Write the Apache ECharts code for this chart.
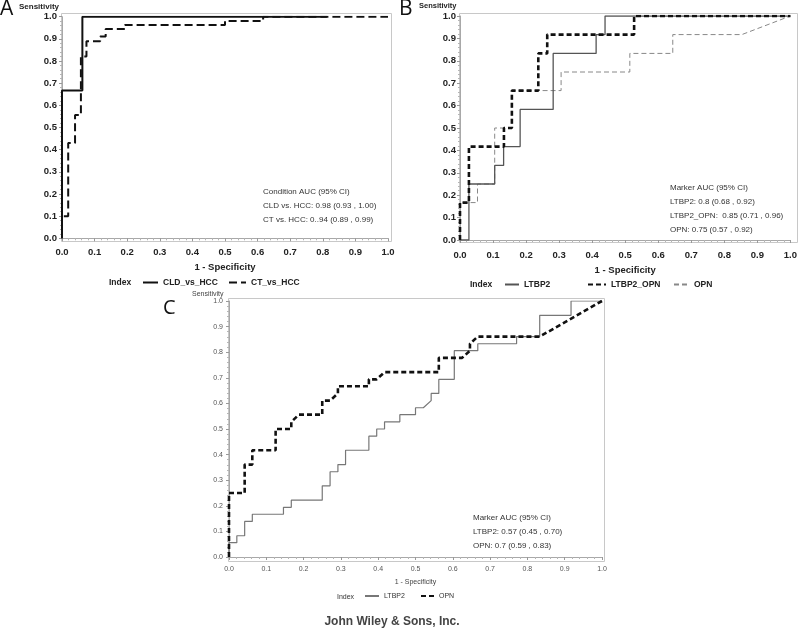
<!DOCTYPE html>
<html>
<head>
<meta charset="utf-8">
<script src="https://cdn.jsdelivr.net/npm/echarts@6/dist/echarts.min.js"></script>
<style>
html,body{margin:0;padding:0;background:#fff;}
#chart{width:800px;height:628px;}
</style>
</head>
<body>
<div id="chart"></div>
<script>
// ---------- Tick labels ----------
const tickValues = [0,0.1,0.2,0.3,0.4,0.5,0.6,0.7,0.8,0.9,1.0];

// ---------- Panel A : Condition ROC ----------
const aSeriesNames = ['CLD_vs_HCC', 'CT_vs_HCC'];
const aCldX = [0, 0, 0.0625, 0.0625, 0.8125];
const aCldY = [0, 0.667, 0.667, 1.0, 1.0];
const aCtX = [0, 0, 0.019, 0.019, 0.040, 0.040, 0.058, 0.058, 0.075, 0.075, 0.117, 0.117, 0.134, 0.134, 0.193, 0.193, 0.500, 0.500, 0.617, 0.617, 1.0];
const aCtY = [0, 0.100, 0.100, 0.430, 0.430, 0.556, 0.556, 0.820, 0.820, 0.889, 0.889, 0.911, 0.911, 0.944, 0.944, 0.963, 0.963, 0.981, 0.981, 1.0, 1.0];
const aNote = ['Condition AUC (95% CI)', 'CLD vs. HCC: 0.98 (0.93 , 1.00)', 'CT vs. HCC: 0..94 (0.89 , 0.99)'];

// ---------- Panel B : Marker ROC ----------
const bSeriesNames = ['LTBP2', 'LTBP2_OPN', 'OPN'];
const bLtbpX = [0, 0.027, 0.027, 0.105, 0.105, 0.132, 0.132, 0.182, 0.182, 0.282, 0.282, 0.412, 0.412, 0.439, 0.439, 1.0];
const bLtbpY = [0, 0, 0.250, 0.250, 0.333, 0.333, 0.417, 0.417, 0.583, 0.583, 0.833, 0.833, 0.917, 0.917, 1.0, 1.0];
const bComboX = [0, 0, 0.027, 0.027, 0.133, 0.133, 0.157, 0.157, 0.237, 0.237, 0.264, 0.264, 0.527, 0.527, 1.0];
const bComboY = [0, 0.167, 0.167, 0.417, 0.417, 0.500, 0.500, 0.667, 0.667, 0.833, 0.833, 0.917, 0.917, 1.0, 1.0];
const bOpnX = [0, 0, 0.053, 0.053, 0.105, 0.105, 0.157, 0.157, 0.306, 0.306, 0.514, 0.514, 0.644, 0.644, 0.853, 1.0];
const bOpnY = [0, 0.167, 0.167, 0.250, 0.250, 0.500, 0.500, 0.667, 0.667, 0.750, 0.750, 0.833, 0.833, 0.917, 0.917, 1.0];
const bNote = ['Marker AUC (95% CI)', 'LTBP2: 0.8 (0.68 , 0.92)', 'LTBP2_OPN:  0.85 (0.71 , 0.96)', 'OPN: 0.75 (0.57 , 0.92)'];

// ---------- Panel C : Marker ROC ----------
const cSeriesNames = ['LTBP2', 'OPN'];
const cLtbpX = [0, 0, 0.021, 0.021, 0.042, 0.042, 0.0625, 0.0625, 0.146, 0.146, 0.167, 0.167, 0.250, 0.250, 0.271, 0.271, 0.292, 0.292, 0.3125, 0.3125, 0.375, 0.375, 0.396, 0.396, 0.417, 0.417, 0.458, 0.458, 0.500, 0.500, 0.521, 0.542, 0.542, 0.5625, 0.5625, 0.604, 0.604, 0.667, 0.667, 0.771, 0.771, 0.833, 0.833, 0.917, 0.917, 1.0];
const cLtbpY = [0, 0.056, 0.056, 0.083, 0.083, 0.139, 0.139, 0.167, 0.167, 0.194, 0.194, 0.222, 0.222, 0.278, 0.278, 0.333, 0.333, 0.361, 0.361, 0.417, 0.417, 0.472, 0.472, 0.500, 0.500, 0.528, 0.528, 0.556, 0.556, 0.583, 0.583, 0.611, 0.639, 0.639, 0.694, 0.694, 0.806, 0.806, 0.833, 0.833, 0.861, 0.861, 0.944, 0.944, 1.0, 1.0];
const cOpnX = [0, 0, 0.042, 0.042, 0.0625, 0.0625, 0.125, 0.125, 0.167, 0.167, 0.1875, 0.250, 0.250, 0.271, 0.292, 0.292, 0.375, 0.375, 0.396, 0.417, 0.5625, 0.5625, 0.625, 0.646, 0.646, 0.667, 0.833, 1.0];
const cOpnY = [0, 0.250, 0.250, 0.361, 0.361, 0.417, 0.417, 0.500, 0.500, 0.528, 0.556, 0.556, 0.611, 0.611, 0.639, 0.667, 0.667, 0.694, 0.694, 0.722, 0.722, 0.778, 0.778, 0.806, 0.833, 0.861, 0.861, 1.0];
const cNote = ['Marker AUC (95% CI)', 'LTBP2: 0.57 (0.45 , 0.70)', 'OPN: 0.7 (0.59 , 0.83)'];

const pts = (xs, ys) => xs.map((x, i) => [x, ys[i]]);
const FONT = "'Liberation Sans', Arial, Helvetica, sans-serif";
const C_SUFFIX = ' (C)';

function xAx(grid, offset, lab, name) {
  return {
    gridIndex: grid, type: 'value', min: 0, max: 1, interval: 0.1, offset: offset,
    axisLine: {show: true, lineStyle: {color: '#a8a8a8', width: 1}},
    axisTick: {show: true, length: 3, lineStyle: {color: '#999'}},
    minorTick: {show: true, splitNumber: 5, length: 2, lineStyle: {color: '#b5b5b5'}},
    splitLine: {show: false}, minorSplitLine: {show: false},
    axisLabel: Object.assign({formatter: v => v.toFixed(1), fontFamily: FONT}, lab),
    name: name.text, nameLocation: 'middle', nameGap: name.gap,
    nameTextStyle: Object.assign({fontFamily: FONT}, name.style)
  };
}
function yAx(grid, offset, lab) {
  return {
    gridIndex: grid, type: 'value', min: 0, max: 1, interval: 0.1, offset: offset,
    axisLine: {show: true, lineStyle: {color: '#a8a8a8', width: 1}},
    axisTick: {show: true, length: 3, lineStyle: {color: '#999'}},
    minorTick: {show: true, splitNumber: 5, length: 2, lineStyle: {color: '#b5b5b5'}},
    splitLine: {show: false}, minorSplitLine: {show: false},
    axisLabel: Object.assign({formatter: v => v.toFixed(1), fontFamily: FONT}, lab)
  };
}
const boldLab = {fontSize: 9.5, fontWeight: 'bold', color: '#222'};
const smallLab = {fontSize: 7, color: '#555'};

function line(name, xi, data, color, width, dash) {
  return {
    type: 'line', name: name, xAxisIndex: xi, yAxisIndex: xi, data: data,
    symbol: 'none', showSymbol: false, animation: false, silent: true,
    lineStyle: {color: color, width: width, type: dash || 'solid', cap: 'butt'},
    itemStyle: {color: color}
  };
}

function leg(name, left, top, w, textStyle, fmt) {
  return {
    data: [name], left: left, top: top, itemWidth: w, itemHeight: 10, padding: 0,
    selectedMode: false, orient: 'horizontal',
    itemStyle: {opacity: 0},
    textStyle: Object.assign({fontFamily: FONT, padding: [0,0,0,0]}, textStyle),
    formatter: fmt || (n => n)
  };
}
const legBold = {fontSize: 8.5, fontWeight: 'bold', color: '#222'};
const legSmall = {fontSize: 7, color: '#333'};
const stripC = n => n.replace(C_SUFFIX, '');

function txt(x, y, s, style, align) {
  return {type: 'text', x: x, y: y, silent: true,
    style: Object.assign({text: s, fontFamily: FONT, fill: '#333', textAlign: align || 'left', textVerticalAlign: 'middle'}, style)};
}
function frame(x, y, w, h) {
  return {type: 'rect', silent: true, z: -1,
    shape: {x: x + 0.5, y: y + 0.5, width: w, height: h},
    style: {fill: 'none', stroke: '#c8c8c8', lineWidth: 1}};
}

const graphics = [
  frame(61, 13, 330, 228),
  frame(459, 13, 338, 229),
  frame(228, 298, 376, 263),
  txt(0, 9, 'A', {fontSize: 21, fontFamily: "'Open Sans', sans-serif", fill: '#111'}),
  txt(399, 9, 'B', {fontSize: 21, fontFamily: "'Open Sans', sans-serif", fill: '#111'}),
  txt(163, 308, 'C', {fontSize: 20, fontFamily: "'Open Sans', sans-serif", fill: '#111'}),
  txt(19, 7, 'Sensitivity', {fontSize: 8, fontWeight: 'bold', fill: '#222'}),
  txt(419, 6, 'Sensitivity', {fontSize: 7.5, fontWeight: 'bold', fill: '#222'}),
  txt(192, 294, 'Sensitivity', {fontSize: 7, fill: '#444'}),
  txt(109, 283, 'Index', {fontSize: 8.5, fontWeight: 'bold', fill: '#222'}),
  txt(470, 285, 'Index', {fontSize: 8.5, fontWeight: 'bold', fill: '#222'}),
  txt(337, 597, 'Index', {fontSize: 7, fill: '#333'}),
  txt(392, 622, 'John Wiley & Sons, Inc.', {fontSize: 12, fontWeight: 'bold', fill: '#444'}, 'center')
];
const aNoteY = [191.7, 205.7, 220];
aNote.forEach((s, i) => graphics.push(txt(263, aNoteY[i], s, {fontSize: 8, fill: '#333'})));
const bNoteY = [187.7, 201.7, 216, 230];
bNote.forEach((s, i) => graphics.push(txt(670, bNoteY[i], s, {fontSize: 8, fill: '#333'})));
const cNoteY = [517.3, 531.7, 546];
cNote.forEach((s, i) => graphics.push(txt(473, cNoteY[i], s, {fontSize: 8, fill: '#333'})));

const option = {
  backgroundColor: '#fff',
  animation: false,
  grid: [
    {left: 62, top: 16.7, width: 326, height: 221.6},
    {left: 460, top: 16, width: 334, height: 224},
    {left: 229, top: 301, width: 373, height: 256}
  ],
  xAxis: [
    xAx(0, 3, Object.assign({margin: 6}, boldLab), {text: '1 - Specificity', gap: 21, style: {fontSize: 9.5, fontWeight: 'bold', color: '#222'}}),
    xAx(1, 2, Object.assign({margin: 8}, boldLab), {text: '1 - Specificity', gap: 23, style: {fontSize: 9.5, fontWeight: 'bold', color: '#222'}}),
    xAx(2, 4, Object.assign({margin: 5}, smallLab), {text: '1 - Specificity', gap: 18, style: {fontSize: 7, color: '#444'}})
  ],
  yAxis: [
    yAx(0, 1, Object.assign({margin: 4}, boldLab)),
    yAx(1, 1, Object.assign({margin: 3}, boldLab)),
    yAx(2, 1, Object.assign({margin: 5}, smallLab))
  ],
  legend: [
    leg(aSeriesNames[0], 142, 278, 15, legBold),
    leg(aSeriesNames[1], 228, 278, 17, legBold),
    leg(bSeriesNames[0], 504, 280, 14, legBold),
    leg(bSeriesNames[1], 587, 280, 18, legBold),
    leg(bSeriesNames[2], 673, 280, 15, legBold),
    leg(cSeriesNames[0] + C_SUFFIX, 364, 592, 14, legSmall, stripC),
    leg(cSeriesNames[1] + C_SUFFIX, 420, 592, 13, legSmall, stripC)
  ],
  series: [
    line(aSeriesNames[1], 0, pts(aCtX, aCtY), '#111', 2, [8, 4]),
    line(aSeriesNames[0], 0, pts(aCldX, aCldY), '#111', 2),
    line(bSeriesNames[2], 1, pts(bOpnX, bOpnY), '#888', 1, [5, 3]),
    line(bSeriesNames[0], 1, pts(bLtbpX, bLtbpY), '#555', 1.3),
    line(bSeriesNames[1], 1, pts(bComboX, bComboY), '#111', 2.6, [5, 3]),
    line(cSeriesNames[0] + C_SUFFIX, 2, pts(cLtbpX, cLtbpY), '#777', 1.2),
    line(cSeriesNames[1] + C_SUFFIX, 2, pts(cOpnX, cOpnY), '#111', 2.6, [5, 3])
  ],
  graphic: graphics
};

const chart = echarts.init(document.getElementById('chart'), null, {renderer: 'canvas'});
chart.setOption(option);
</script>
</body>
</html>
